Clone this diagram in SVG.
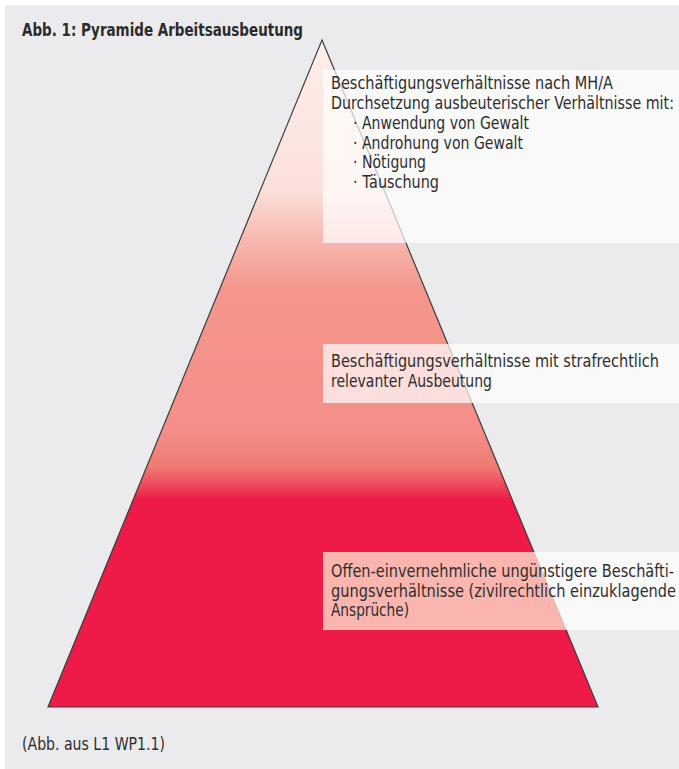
<svg xmlns="http://www.w3.org/2000/svg" width="679" height="769" viewBox="0 0 679 769">
  <defs>
    <linearGradient id="pyramidFill" gradientUnits="userSpaceOnUse" x1="0" y1="40" x2="0" y2="707">
      <stop offset="0" stop-color="#fdeeea"/>
      <stop offset="0.225" stop-color="#fbe0db"/>
      <stop offset="0.30" stop-color="#f7b8b0"/>
      <stop offset="0.375" stop-color="#f4968c"/>
      <stop offset="0.585" stop-color="#f38f88"/>
      <stop offset="0.64" stop-color="#f07a74"/>
      <stop offset="0.675" stop-color="#ee3a55"/>
      <stop offset="0.69" stop-color="#ee1a47"/>
      <stop offset="1" stop-color="#ee1a47"/>
    </linearGradient>
    <clipPath id="pyramidClip">
      <polygon points="322,40 598,707 48,707"/>
    </clipPath>
    <style>
      .panel { fill: #ebebed; }
      .pyramid { fill: url(#pyramidFill); stroke: #3c3c3c; stroke-width: 1.2; stroke-linejoin: miter; }
      .box { fill: #ffffff; fill-opacity: 0.7; }
      .title { font-family: "Liberation Sans Narrow", "DejaVu Sans Condensed", "Liberation Sans", sans-serif; font-size: 18px; font-weight: bold; fill: #2b2b2b; }
      .label { font-family: "Liberation Sans Narrow", "DejaVu Sans Condensed", "Liberation Sans", sans-serif; font-size: 18px; fill: #2e2e2e; }
    </style>
  </defs>

  <!-- background panel -->
  <rect x="0" y="0" width="679" height="769" fill="#ffffff"/>
  <rect class="panel" x="5" y="5" width="674" height="764"/>

  <text class="title" x="22" y="36" textLength="281" lengthAdjust="spacingAndGlyphs">Abb. 1: Pyramide Arbeitsausbeutung</text>

  <!-- pyramid -->
  <g id="pyramid">
    <polygon class="pyramid" points="322,40 598,707 48,707"/>
  </g>

  <!-- level 1: top -->
  <g id="level-top">
    <rect class="box" x="323" y="70" width="356" height="173"/>
    <text class="label" x="331" y="89" textLength="282" lengthAdjust="spacingAndGlyphs">Beschäftigungsverhältnisse nach MH/A</text>
    <text class="label" x="331" y="109" textLength="343" lengthAdjust="spacingAndGlyphs">Durchsetzung ausbeuterischer Verhältnisse mit:</text>
    <text class="label" x="353" y="129" textLength="176" lengthAdjust="spacingAndGlyphs">· Anwendung von Gewalt</text>
    <text class="label" x="353" y="148.5" textLength="170" lengthAdjust="spacingAndGlyphs">· Androhung von Gewalt</text>
    <text class="label" x="353" y="168" textLength="73" lengthAdjust="spacingAndGlyphs">· Nötigung</text>
    <text class="label" x="353" y="188" textLength="86" lengthAdjust="spacingAndGlyphs">· Täuschung</text>
  </g>

  <!-- level 2: middle -->
  <g id="level-middle">
    <rect class="box" x="323" y="344" width="356" height="59"/>
    <text class="label" x="331" y="367" textLength="328" lengthAdjust="spacingAndGlyphs">Beschäftigungsverhältnisse mit strafrechtlich</text>
    <text class="label" x="331" y="387" textLength="161" lengthAdjust="spacingAndGlyphs">relevanter Ausbeutung</text>
  </g>

  <!-- level 3: base -->
  <g id="level-base">
    <rect class="box" x="323" y="552" width="356" height="78"/>
    <!-- warm tint where the box lies over the red base -->
    <rect x="323" y="552" width="356" height="78" fill="#fab6ae" clip-path="url(#pyramidClip)"/>
    <text class="label" x="331" y="577" textLength="343" lengthAdjust="spacingAndGlyphs">Offen-einvernehmliche ungünstigere Beschäfti-</text>
    <text class="label" x="331" y="596.5" textLength="345" lengthAdjust="spacingAndGlyphs">gungsverhältnisse (zivilrechtlich einzuklagende</text>
    <text class="label" x="331" y="616" textLength="78" lengthAdjust="spacingAndGlyphs">Ansprüche)</text>
  </g>

  <g id="connectors"/>

  <text class="label" x="22" y="750" textLength="143" lengthAdjust="spacingAndGlyphs">(Abb. aus L1 WP1.1)</text>
</svg>
